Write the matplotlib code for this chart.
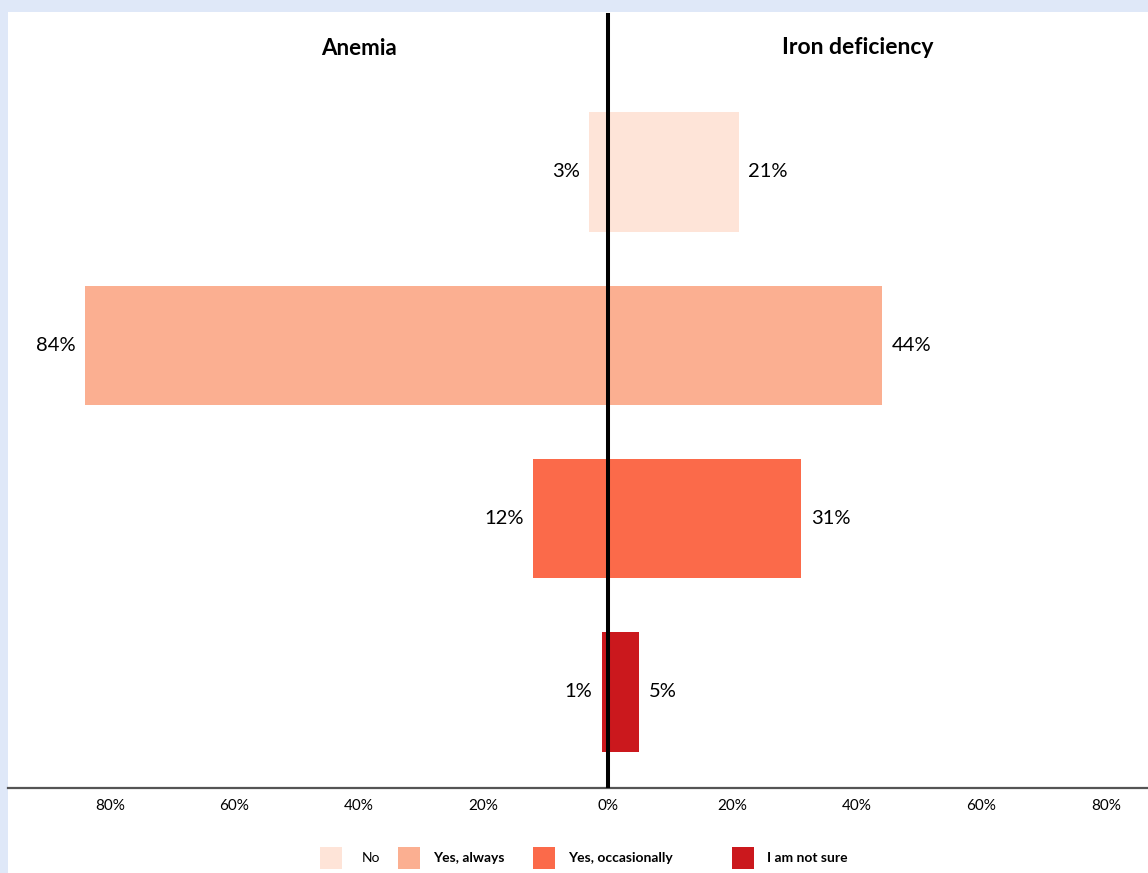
import matplotlib.pyplot as plt
from matplotlib.patches import Rectangle

# データ
categories = ['No', 'Yes, always', 'Yes, occasionally', 'I am not sure']
anemia = [3, 84, 12, 1]
iron_deficiency = [21, 44, 31, 5]
colors = ['#fee4d8', '#fbaf91', '#fb6a4a', '#cb181d']
tick_values = [-80, -60, -40, -20, 0, 20, 40, 60, 80]

plt.rcParams['font.family'] = ['Lato', 'DejaVu Sans']

W, H = 1148, 873
fig = plt.figure(figsize=(W / 100, H / 100), dpi=100)
fig.patch.set_facecolor('#dfe8f8')

# 白いパネル
fig.add_artist(Rectangle((8 / W, 0), 1 - 8 / W, 1 - 12 / H, transform=fig.transFigure,
                         facecolor='white', edgecolor='none', zorder=0))

ax = fig.add_axes([8 / W, 1 - 788 / H, 1 - 8 / W, 776 / H])
ax.set_facecolor('none')

y = range(len(categories))
ax.barh(y, [-v for v in anemia], height=0.69, color=colors, zorder=2)
ax.barh(y, iron_deficiency, height=0.69, color=colors, zorder=2)

# 値ラベル
for i, (a, b) in enumerate(zip(anemia, iron_deficiency)):
    ax.annotate(f'{a}%', (-a, i), xytext=(-7, 0), textcoords='offset points',
                ha='right', va='center', fontsize=14.5)
    ax.annotate(f'{b}%', (b, i), xytext=(7, 0), textcoords='offset points',
                ha='left', va='center', fontsize=14.5)

ax.axvline(0, color='black', linewidth=2.9, zorder=3, ymax=0.996)

ax.set_xlim(-96.39, 86.75)
ax.set_ylim(3.554, -0.923)

ax.set_xticks(tick_values)
ax.set_xticklabels([f'{abs(t)}%' for t in tick_values], fontsize=11)
ax.tick_params(axis='x', length=0, pad=8)
ax.set_yticks([])
for s in ['top', 'right', 'left']:
    ax.spines[s].set_visible(False)
ax.spines['bottom'].set_color('#555555')
ax.spines['bottom'].set_linewidth(1.6)

# タイトル
tr = ax.get_xaxis_transform()
ax.text(-40, 0.953, 'Anemia', transform=tr, ha='center', va='center',
        fontsize=16, fontweight='bold')
ax.text(40.2, 0.954, 'Iron deficiency', transform=tr, ha='center', va='center',
        fontsize=16.5, fontweight='bold')

# 凡例
swatch_x = [320, 398, 533, 732]
text_x = [362, 433, 568, 767]
weights = ['normal', 'bold', 'bold', 'bold']
ly = 858
for c, lab, sx, tx, w in zip(colors, categories, swatch_x, text_x, weights):
    fig.add_artist(Rectangle((sx / W, 1 - (ly + 11) / H), 22 / W, 22 / H,
                             transform=fig.transFigure, facecolor=c, edgecolor='none'))
    fig.text(tx / W, 1 - ly / H, lab, ha='left', va='center', fontsize=10,
             fontweight=w)

fig.savefig('out.png', dpi=100, facecolor=fig.get_facecolor())
